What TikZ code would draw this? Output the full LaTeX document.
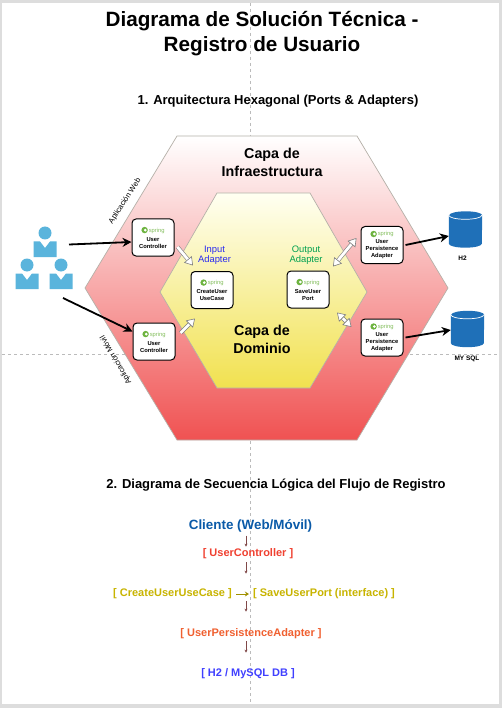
\documentclass[tikz,border=0pt]{standalone}
\usepackage{fontspec}
\usepackage{xcolor}
\setmainfont{Liberation Sans}
\usetikzlibrary{arrows.meta}

\definecolor{pagegray}{HTML}{DDDDDD}
\definecolor{guidegray}{HTML}{BBBBBB}
\definecolor{hexedge}{HTML}{B5B0A8}
\definecolor{outerbottom}{HTML}{F05252}
\definecolor{innertop}{HTML}{FFFFF2}
\definecolor{innerbottom}{HTML}{F1E14F}
\definecolor{actorblue}{HTML}{5AB4DC}
\definecolor{dbblue}{HTML}{1F70B8}
\definecolor{springgreen}{HTML}{6DB33F}
\definecolor{inputblue}{HTML}{2A2AF0}
\definecolor{outputgreen}{HTML}{00A050}
\definecolor{seqbrown}{HTML}{804848}
\definecolor{seqblue}{HTML}{0A5AA8}
\definecolor{seqred}{HTML}{F04030}
\definecolor{seqgold}{HTML}{C8B400}
\definecolor{seqorange}{HTML}{F06030}
\definecolor{seqviolet}{HTML}{4040FF}

\newcommand{\springlogo}{\tikz[baseline=-2pt]{\fill[springgreen] (0pt,0pt) circle[radius=3.2pt];\fill[white] (0.7pt,0pt) circle[radius=1.5pt];}\,{\color{springgreen!85}\fontsize{5.8}{6}\mdseries\selectfont spring}}

\tikzset{
    guide/.style={guidegray,dashed,line width=0.6pt},
    hexagon/.style={draw=hexedge,line width=0.7pt},
    springbox/.style={draw=black,fill=white,rounded corners=4pt,line width=1pt,minimum width=42pt,minimum height=37pt,inner sep=0pt,align=center,font=\bfseries\fontsize{5.8}{7}\selectfont},
    database/.style={minimum width=33pt,minimum height=36pt,inner sep=0pt},
    dblabel/.style={font=\bfseries\fontsize{6.5}{7}\selectfont,inner sep=0pt},
    flowarrow/.style={-{Stealth[length=9pt,width=9pt]},line width=1.8pt,black},
    hollow/.style={double=white,double distance=2.8pt,draw=gray,line width=0.6pt,-{Triangle[length=8pt,width=10pt,fill=white]}},
    hollowboth/.style={double=white,double distance=2.8pt,draw=gray,line width=0.6pt,{Triangle[length=8pt,width=10pt,fill=white]}-{Triangle[length=8pt,width=10pt,fill=white]}},
    layer/.style={font=\bfseries\fontsize{14.3}{18}\selectfont,align=center,inner sep=0pt},
    adapter/.style={font=\fontsize{9.4}{10.5}\selectfont,align=center,inner sep=0pt},
    sidelabel/.style={font=\fontsize{7.6}{8}\selectfont,inner sep=0pt},
    heading/.style={font=\bfseries\fontsize{13}{15}\selectfont,inner sep=0pt},
    seqnode/.style={font=\bfseries\fontsize{11}{13}\selectfont,inner sep=0pt},
    seqarrow/.style={-{Stealth[length=3pt,width=3pt]},seqbrown,line width=0.5pt},
}

\begin{document}
\begin{tikzpicture}[x=1pt,y=-1pt]
    \useasboundingbox (0,0) rectangle (502,708);
    \fill[pagegray] (0,0) rectangle (502,708);
    \fill[white] (2,3) rectangle (499,704);

    % guides
    \draw[guide] (250,3) -- (250,704);
    \draw[guide] (2,354) -- (499,354);

    % titles
    \node[font=\bfseries\fontsize{20.7}{25}\selectfont,align=center,inner sep=0pt] (title) at (262,34) {Diagrama de Solución Técnica -\\Registro de Usuario};
    \node[heading] (headHex) at (278,101) {1. Arquitectura Hexagonal (Ports \& Adapters)};
    \node[heading] (headSeq) at (276,485) {2. Diagrama de Secuencia Lógica del Flujo de Registro};

    % hexagons
    \draw[hexagon,top color=white,bottom color=outerbottom] (177,136) -- (357,136) -- (448,288) -- (357,440) -- (177,440) -- (85,288) -- cycle;
    \draw[hexagon,top color=innertop,bottom color=innerbottom] (217,193) -- (310,193) -- (367,292) -- (310,388) -- (217,388) -- (160,292) -- cycle;

    \node[layer] (capaInfra) at (272,162) {Capa de\\Infraestructura};
    \node[layer] (capaDom) at (262,339) {Capa de\\Dominio};
    \node[adapter,text=inputblue] (inputLabel) at (214.5,255) {Input\\Adapter};
    \node[adapter,text=outputgreen] (outputLabel) at (306,255) {Output\\Adapter};
    \node[sidelabel,rotate=57] (webLabel) at (125,201) {Aplicación Web};
    \node[sidelabel,rotate=120] (movilLabel) at (116,360) {Aplicación Móvil};

    % users
    \foreach \hx/\hy in {45/233,27/265,61/265}{
        \fill[actorblue] (\hx,\hy) circle[radius=6.5];
        \fill[actorblue] (\hx-11.5,\hy+8.5) -- (\hx-5,\hy+8.5) -- (\hx,\hy+15) -- (\hx+5,\hy+8.5) -- (\hx+11.5,\hy+8.5) -- (\hx+11.5,\hy+24) -- (\hx-11.5,\hy+24) -- cycle;
    }
    \coordinate (usersWeb) at (69,244.5);
    \coordinate (usersMovil) at (63,298);

    % spring boxes
    \node[springbox] (ctrlWeb) at (153,237.5) {\springlogo\\[2pt]User\\Controller};
    \node[springbox] (ctrlMovil) at (154,341.5) {\springlogo\\[2pt]User\\Controller};
    \node[springbox] (createCase) at (212,290) {\springlogo\\[2pt]CreateUser\\UseCase};
    \node[springbox] (savePort) at (308,289.5) {\springlogo\\[2pt]SaveUser\\Port};
    \node[springbox] (persistTop) at (382,245) {\springlogo\\[1pt]User\\Persistence\\Adapter};
    \node[springbox] (persistBottom) at (382,337.5) {\springlogo\\[1pt]User\\Persistence\\Adapter};

    % databases
    \node[database] (dbH2) at (465.5,229.5) {};
    \node[database] (dbMysql) at (467.5,329) {};
    \foreach \db in {dbH2,dbMysql}{
        \fill[dbblue] ([yshift=-4]\db.north west) -- ([yshift=4]\db.south west) arc[start angle=180,end angle=360,x radius=16.5pt,y radius=4pt] -- ([yshift=-4]\db.north east) arc[start angle=0,end angle=180,x radius=16.5pt,y radius=4pt] -- cycle;
        \draw[white,line width=0.7pt] ([yshift=-4]\db.north west) arc[start angle=180,end angle=360,x radius=16.5pt,y radius=4pt];
    }
    \node[dblabel] (labelH2) at (462.5,258) {H2};
    \node[dblabel] (labelMysql) at (467,359) {MY SQL};

    % arrows
    \draw[flowarrow] (usersWeb) -- ([yshift=-4.5]ctrlWeb.west);
    \draw[flowarrow] (usersMovil) -- ([yshift=10]ctrlMovil.west);
    \draw[flowarrow] ([xshift=2]persistTop.east) -- ([yshift=-6.5]dbH2.west);
    \draw[flowarrow] ([xshift=2]persistBottom.east) -- ([yshift=-1]dbMysql.west);
    \draw[hollow] ([xshift=3,yshift=-9.5]ctrlWeb.east) -- ([xshift=-19,yshift=5.5]createCase.north);
    \draw[hollow] ([xshift=5,yshift=8.5]ctrlMovil.east) -- ([xshift=-17,yshift=-9.5]createCase.south);
    \draw[hollowboth] ([xshift=25,yshift=4]savePort.north) -- ([xshift=-4,yshift=7]persistTop.west);
    \draw[hollowboth] ([xshift=29,yshift=-4]savePort.south) -- ([xshift=-9,yshift=10.5]persistBottom.west);

    % logical sequence
    \coordinate (seqAxis) at (246,0);
    \node[font=\bfseries\fontsize{13.4}{15}\selectfont,text=seqblue,inner sep=0pt] (seqCliente) at (250.5,526) {Cliente (Web/Móvil)};
    \node[seqnode,text=seqred] (seqCtrl) at (248,554) {[ UserController ]};
    \node[seqnode,text=seqgold] (seqCreate) at (172.5,594) {[ CreateUserUseCase ]};
    \node[seqnode,text=seqgold] (seqSave) at (324,594) {[ SaveUserPort (interface) ]};
    \node[seqnode,text=seqorange] (seqPersist) at (251,634) {[ UserPersistenceAdapter ]};
    \node[seqnode,text=seqviolet] (seqDb) at (248,674) {[ H2 / MySQL DB ]};
    \draw[seqarrow,shorten <=3pt,shorten >=2pt] (seqCliente.south -| seqAxis) -- (seqCtrl.north -| seqAxis);
    \draw[seqarrow,shorten <=3pt,shorten >=15pt] (seqCtrl.south -| seqAxis) -- (seqCreate.north -| seqAxis);
    \draw[-{Stealth[length=4pt,width=5pt]},seqgold!80!black,line width=0.7pt,shorten <=4pt,shorten >=4pt] (seqCreate) -- (seqSave);
    \draw[seqarrow,shorten <=2pt,shorten >=17pt] (seqCreate.south -| seqAxis) -- (seqPersist.north -| seqAxis);
    \draw[seqarrow,shorten <=2pt,shorten >=16pt] (seqPersist.south -| seqAxis) -- (seqDb.north -| seqAxis);
\end{tikzpicture}
\end{document}
